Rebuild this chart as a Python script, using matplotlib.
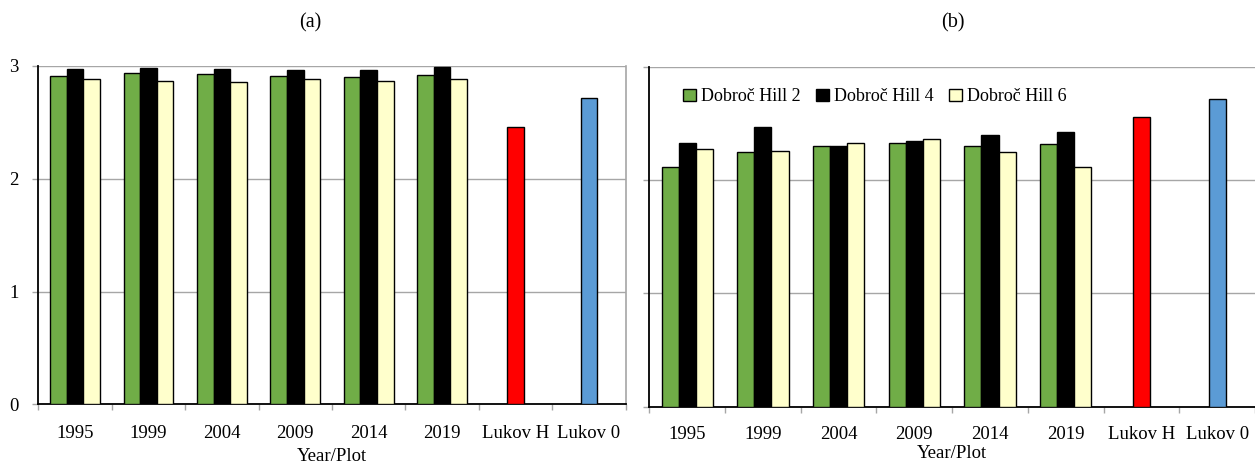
import matplotlib
matplotlib.use("Agg")
import matplotlib.pyplot as plt
import numpy as np

plt.rcParams['font.family'] = ['Liberation Serif', 'DejaVu Serif']

categories = ['1995', '1999', '2004', '2009', '2014', '2019', 'Lukov H', 'Lukov 0']
series_names = ['Dobroč Hill 2', 'Dobroč Hill 4', 'Dobroč Hill 6']

a_hill2 = [2.91, 2.935, 2.93, 2.91, 2.90, 2.92]
a_hill4 = [2.97, 2.98, 2.975, 2.965, 2.965, 2.99]
a_hill6 = [2.885, 2.87, 2.86, 2.885, 2.87, 2.885]
a_lukov = [2.457, 2.72]

b_hill2 = [2.12, 2.25, 2.30, 2.33, 2.30, 2.32]
b_hill4 = [2.33, 2.47, 2.30, 2.35, 2.40, 2.43]
b_hill6 = [2.28, 2.26, 2.33, 2.36, 2.25, 2.12]
b_lukov = [2.56, 2.72]

series_colors = ['#70AD47', '#000000', '#FFFFCC']
lukov_colors = ['#FF0000', '#5B9BD5']
GRID = '#a6a6a6'
FS = 13.5

fig = plt.figure(figsize=(12.55, 4.63), dpi=100)
ax_a = fig.add_axes([0.0305, 0.1268, 0.4681, 0.7307])
ax_b = fig.add_axes([0.5174, 0.1216, 0.4826, 0.7337])


def draw(ax, h2, h4, h6, lukov, show_ylabels, legend, tpad, lpad):
    n = len(h2)
    x = np.arange(n)
    w = 0.226
    for i, (vals, col) in enumerate(zip([h2, h4, h6], series_colors)):
        ax.bar(x + (i - 1) * w, vals, width=w, color=col, edgecolor='black',
               linewidth=1.0, zorder=3, label=series_names[i])
    xl = np.arange(n, n + len(lukov))
    ax.bar(xl, lukov, width=w, color=lukov_colors, edgecolor='black',
           linewidth=1.0, zorder=3)
    ax.set_xlim(-0.5, len(categories) - 0.5)
    ax.set_ylim(0, 3)
    ax.set_yticks([0, 1, 2, 3])
    ax.yaxis.grid(True, color=GRID, linewidth=1.0, zorder=0)
    ax.set_axisbelow(True)
    ax.set_xticks(np.arange(len(categories)))
    ax.set_xticklabels(categories, fontsize=FS)
    ax.set_xticks(np.arange(len(categories) + 1) - 0.5, minor=True)
    ax.tick_params(axis='x', which='major', length=0, pad=tpad)
    ax.tick_params(axis='x', which='minor', length=4, color=GRID, width=1.0)
    ax.tick_params(axis='y', length=4, color=GRID, width=1.0, pad=10,
                   labelsize=FS, labelleft=show_ylabels)
    ax.spines['top'].set_visible(False)
    ax.spines['left'].set_color('black')
    ax.spines['left'].set_linewidth(1.3)
    ax.spines['bottom'].set_color('black')
    ax.spines['bottom'].set_linewidth(1.3)
    ax.spines['right'].set_color(GRID)
    ax.spines['right'].set_linewidth(1.2)
    ax.set_xlabel('Year/Plot', fontsize=FS, labelpad=lpad)
    if legend:
        ax.legend(loc='upper left', bbox_to_anchor=(0.029, 0.985), ncol=3,
                  frameon=False, fontsize=13, handlelength=0.7,
                  handleheight=0.7, handletextpad=0.3, columnspacing=0.85)


draw(ax_a, a_hill2, a_hill4, a_hill6, a_lukov, True, False, 15, 4)
draw(ax_b, b_hill2, b_hill4, b_hill6, b_lukov, False, True, 14, 1)
ax_b.spines['right'].set_visible(False)

fig.text(310 / 1255, 1 - 23 / 463, '(a)', ha='center', va='center', fontsize=14.5)
fig.text(953 / 1255, 1 - 23 / 463, '(b)', ha='center', va='center', fontsize=14.5)

fig.savefig('out.png', dpi=100)
